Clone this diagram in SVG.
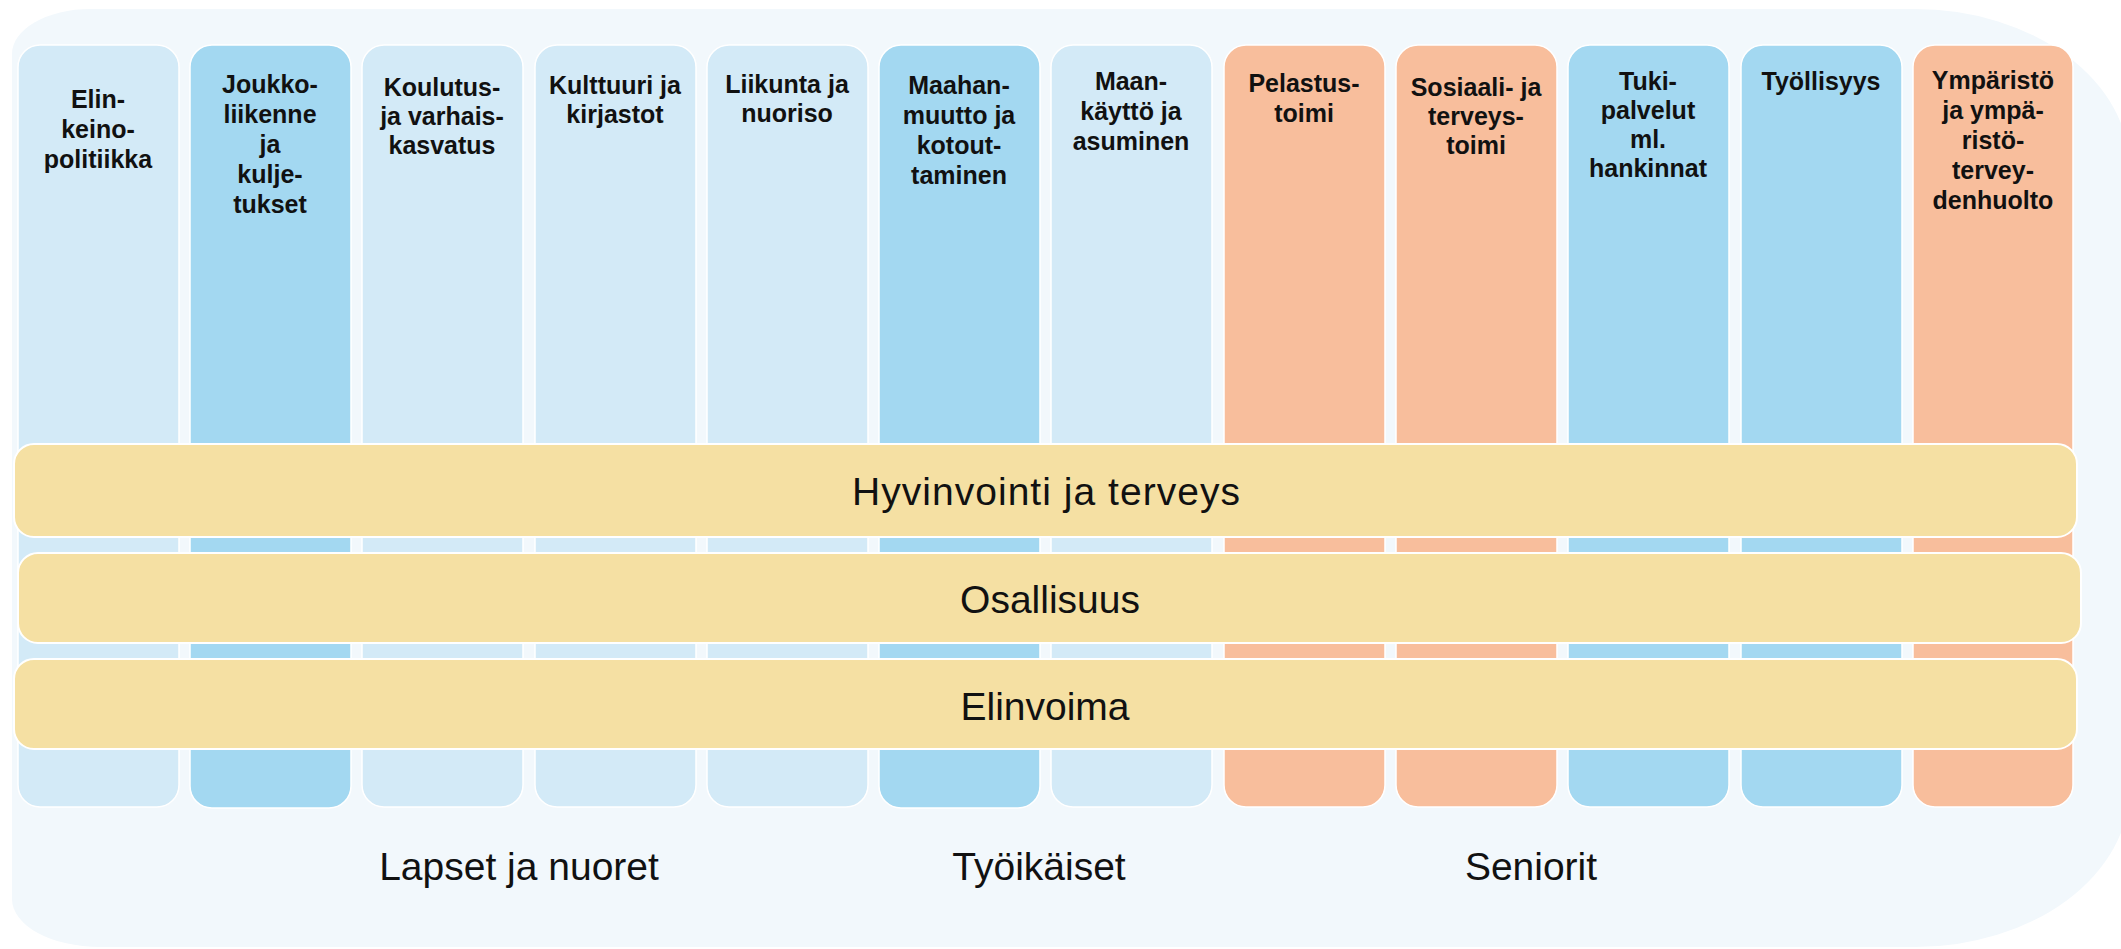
<svg xmlns="http://www.w3.org/2000/svg" width="2121" height="949" viewBox="0 0 2121 949">
<style>
.col{stroke:#FFFFFF;stroke-width:1.5}
.lb{fill:#D3EAF7}
.mb{fill:#A3D8F1}
.sa{fill:#F8BE9C}
.band{fill:#F5E0A3;stroke:#FFFFFF;stroke-width:2}
.ct{font-family:"Liberation Sans",Arial,sans-serif;font-weight:bold;font-size:25px;fill:#111111;text-anchor:middle}
.bt{font-family:"Liberation Sans",Arial,sans-serif;font-size:39px;fill:#111111;text-anchor:middle}
</style>
<rect width="2121" height="949" fill="#FFFFFF"/>
<path id="background" d="M 90 9 H 1915 A 215 160 0 0 1 2130 169 V 787 A 215 160 0 0 1 1915 947 H 100 A 88 48 0 0 1 12 899 V 54 A 78 45 0 0 1 90 9 Z" fill="#F2F8FC"/>
<g id="columns">
<g id="col-elinkeino"><rect class="col lb" x="18" y="45" width="161" height="762" rx="22"/>
<text class="ct" y="108"><tspan x="98">Elin-</tspan><tspan x="98" dy="30">keino-</tspan><tspan x="98" dy="30">politiikka</tspan></text></g>
<g id="col-joukkoliikenne"><rect class="col mb" x="190" y="45" width="161" height="763" rx="22"/>
<text class="ct" y="93"><tspan x="270">Joukko-</tspan><tspan x="270" dy="30">liikenne</tspan><tspan x="270" dy="30">ja</tspan><tspan x="270" dy="30">kulje-</tspan><tspan x="270" dy="30">tukset</tspan></text></g>
<g id="col-koulutus"><rect class="col lb" x="362" y="45" width="161" height="762" rx="22"/>
<text class="ct" y="96"><tspan x="442">Koulutus-</tspan><tspan x="442" dy="29">ja varhais-</tspan><tspan x="442" dy="29">kasvatus</tspan></text></g>
<g id="col-kulttuuri"><rect class="col lb" x="535" y="45" width="161" height="762" rx="22"/>
<text class="ct" y="94"><tspan x="615">Kulttuuri ja</tspan><tspan x="615" dy="29">kirjastot</tspan></text></g>
<g id="col-liikunta"><rect class="col lb" x="707" y="45" width="161" height="762" rx="22"/>
<text class="ct" y="93"><tspan x="787">Liikunta ja</tspan><tspan x="787" dy="29">nuoriso</tspan></text></g>
<g id="col-maahanmuutto"><rect class="col mb" x="879" y="45" width="161" height="763" rx="22"/>
<text class="ct" y="94"><tspan x="959">Maahan-</tspan><tspan x="959" dy="30">muutto ja</tspan><tspan x="959" dy="30">kotout-</tspan><tspan x="959" dy="30">taminen</tspan></text></g>
<g id="col-maankaytto"><rect class="col lb" x="1051" y="45" width="161" height="762" rx="22"/>
<text class="ct" y="90"><tspan x="1131">Maan-</tspan><tspan x="1131" dy="30">käyttö ja</tspan><tspan x="1131" dy="30">asuminen</tspan></text></g>
<g id="col-pelastustoimi"><rect class="col sa" x="1224" y="45" width="161" height="762" rx="22"/>
<text class="ct" y="92"><tspan x="1304">Pelastus-</tspan><tspan x="1304" dy="30">toimi</tspan></text></g>
<g id="col-sosiaali"><rect class="col sa" x="1396" y="45" width="161" height="762" rx="22"/>
<text class="ct" y="96"><tspan x="1476">Sosiaali- ja</tspan><tspan x="1476" dy="29">terveys-</tspan><tspan x="1476" dy="29">toimi</tspan></text></g>
<g id="col-tukipalvelut"><rect class="col mb" x="1568" y="45" width="161" height="762" rx="22"/>
<text class="ct" y="90"><tspan x="1648">Tuki-</tspan><tspan x="1648" dy="29">palvelut</tspan><tspan x="1648" dy="29">ml.</tspan><tspan x="1648" dy="29">hankinnat</tspan></text></g>
<g id="col-tyollisyys"><rect class="col mb" x="1741" y="45" width="161" height="762" rx="22"/>
<text class="ct" y="90"><tspan x="1821">Työllisyys</tspan></text></g>
<g id="col-ymparisto"><rect class="col sa" x="1913" y="45" width="160" height="762" rx="22"/>
<text class="ct" y="89"><tspan x="1993">Ympäristö</tspan><tspan x="1993" dy="30">ja ympä-</tspan><tspan x="1993" dy="30">ristö-</tspan><tspan x="1993" dy="30">tervey-</tspan><tspan x="1993" dy="30">denhuolto</tspan></text></g>
</g>
<g id="bands">
<g id="band-hyvinvointi"><rect class="band" x="14" y="444" width="2063" height="93" rx="20"/>
<text class="bt" x="1046" y="505" textLength="388" lengthAdjust="spacing">Hyvinvointi ja terveys</text></g>
<g id="band-osallisuus"><rect class="band" x="18" y="553" width="2063" height="90" rx="20"/>
<text class="bt" x="1050" y="613">Osallisuus</text></g>
<g id="band-elinvoima"><rect class="band" x="14" y="659" width="2063" height="90" rx="20"/>
<text class="bt" x="1045" y="720">Elinvoima</text></g>
</g>
<g id="connectors"></g>
<g id="groups">
<text id="lapset" class="bt" x="519" y="880">Lapset ja nuoret</text>
<text id="tyoikaiset" class="bt" x="1039" y="880">Työikäiset</text>
<text id="seniorit" class="bt" x="1531" y="880">Seniorit</text>
</g>
</svg>
